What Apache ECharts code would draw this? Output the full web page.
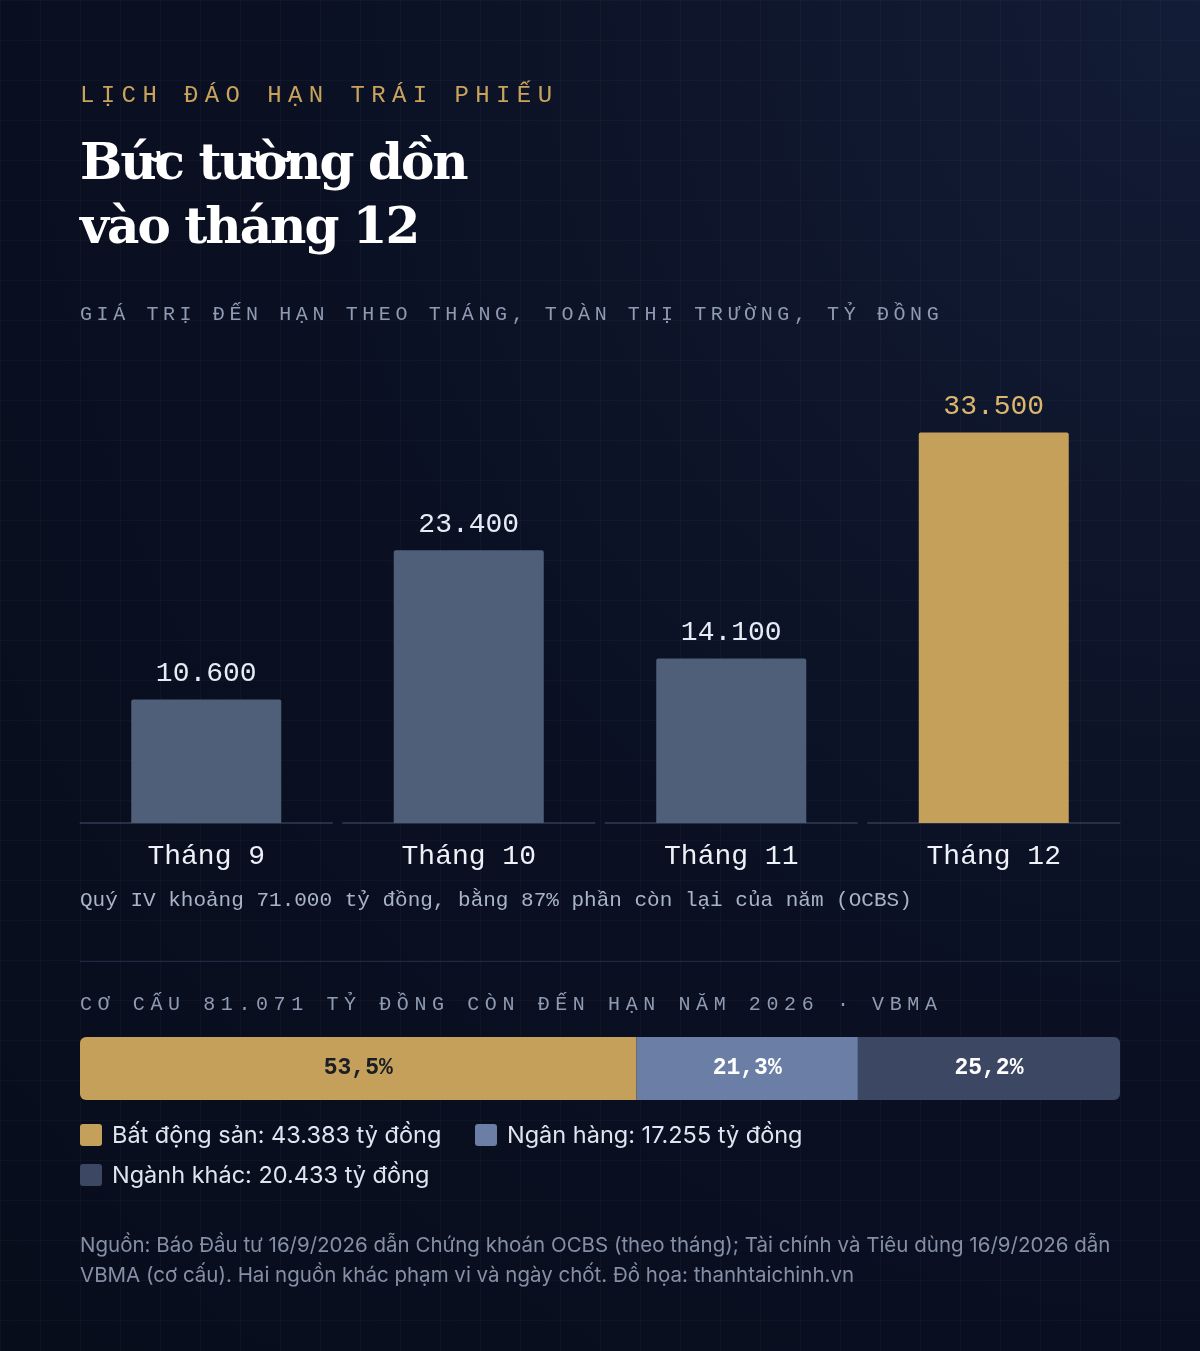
<!DOCTYPE html>
<html><head><meta charset="utf-8">
<script src="https://cdn.jsdelivr.net/npm/echarts@6/dist/echarts.min.js"></script>
<style>
html,body{margin:0;padding:0;}
body{width:1200px;height:1351px;position:relative;overflow:hidden;
background:
linear-gradient(rgba(255,255,255,0.025) 1px,transparent 1px) 0 0/40px 40px,
linear-gradient(90deg,rgba(255,255,255,0.025) 1px,transparent 1px) 0 0/40px 40px,
radial-gradient(ellipse at 100% 0%,#131c36 0%,#0a1022 55%,#080d1c 100%);
font-family:Inter,"Noto Sans",sans-serif;}
#c{position:absolute;left:0;top:0;width:1200px;height:1351px;}
.t{position:absolute;left:80px;white-space:nowrap;}
.mono{font-family:"Liberation Mono","DejaVu Sans Mono",monospace;}
.kick{top:82px;font-size:24px;letter-spacing:6.4px;color:#c9a35c;}
h1{position:absolute;left:80px;top:130px;margin:0;font-family:"DejaVu Serif","Liberation Serif",serif;font-weight:bold;font-size:50px;line-height:64px;color:#fff;letter-spacing:-2px;}
.sub{top:303px;font-size:20px;letter-spacing:4.6px;color:#8f9bb3;}
.note{top:889px;font-size:21px;color:#a9b4c8;}
.hr{position:absolute;left:80px;width:1040px;top:961px;height:1px;background:#1f2840;}
.sub2{top:993px;font-size:20px;letter-spacing:5.6px;color:#8f9bb3;}
.lg{position:absolute;font-size:23.5px;color:#dfe5ef;display:flex;align-items:center;white-space:nowrap;}
.lg i{display:inline-block;width:22px;height:22px;border-radius:3px;margin-right:10px;}
.src{top:1230px;font-size:20.5px;line-height:30px;color:#8590a6;white-space:normal;width:1060px;}
</style></head><body>
<div id="c"></div>
<div class="t mono kick">LỊCH ĐÁO HẠN TRÁI PHIẾU</div>
<h1>Bức tường dồn<br>vào tháng 12</h1>
<div class="t mono sub">GIÁ TRỊ ĐẾN HẠN THEO THÁNG, TOÀN THỊ TRƯỜNG, TỶ ĐỒNG</div>
<div class="t mono note">Quý IV khoảng 71.000 tỷ đồng, bằng 87% phần còn lại của năm (OCBS)</div>
<div class="hr"></div>
<div class="t mono sub2">CƠ CẤU 81.071 TỶ ĐỒNG CÒN ĐẾN HẠN NĂM 2026 · VBMA</div>
<div class="lg" style="left:80px;top:1120px"><i style="background:#c4a05a"></i>Bất động sản: 43.383 tỷ đồng</div>
<div class="lg" style="left:475px;top:1120px"><i style="background:#6b7fa6"></i>Ngân hàng: 17.255 tỷ đồng</div>
<div class="lg" style="left:80px;top:1160px"><i style="background:#3b4763"></i>Ngành khác: 20.433 tỷ đồng</div>
<div class="t src">Nguồn: Báo Đầu tư 16/9/2026 dẫn Chứng khoán OCBS (theo tháng); Tài chính và Tiêu dùng 16/9/2026 dẫn VBMA (cơ cấu). Hai nguồn khác phạm vi và ngày chốt. Đồ họa: thanhtaichinh.vn</div>
<script>
const months = ['Tháng 9','Tháng 10','Tháng 11','Tháng 12'];
const maturity = [10600, 23400, 14100, 33500];
const sectors = ['Bất động sản','Ngân hàng','Ngành khác'];
const sectorValues = [43383, 17255, 20433];
const sectorPct = ['53,5%','21,3%','25,2%'];
const sectorColors = ['#c4a05a','#6b7fa6','#3b4763'];
const sectorLabelColors = ['#1b1d24','#ffffff','#ffffff'];
const total = sectorValues.reduce((a,b)=>a+b,0);
const fmt = v => v.toLocaleString('de-DE');
const mono = '"Liberation Mono","DejaVu Sans Mono",monospace';
const chart = echarts.init(document.getElementById('c'));
const stackSeries = sectorValues.map((v,i)=>({
  type:'bar', stack:'s', xAxisIndex:1, yAxisIndex:1, barWidth:63,
  data:[v], itemStyle:{color:sectorColors[i],
    borderRadius: i===0?[6,0,0,6]:(i===sectorValues.length-1?[0,6,6,0]:0)},
  label:{show:true,position:'inside',formatter:()=>sectorPct[i],fontFamily:mono,fontSize:23,fontWeight:'bold',color:sectorLabelColors[i]},
  silent:true
}));
chart.setOption({
  animation:false,
  grid:[{left:75,right:75,top:380,bottom:528},{left:80,right:80,top:1037,height:63}],
  xAxis:[{type:'category',data:months,gridIndex:0,axisLine:{show:false},axisTick:{show:false},
    axisLabel:{fontFamily:mono,fontSize:28,color:'#eef2f8',margin:20}},
    {type:'value',gridIndex:1,min:0,max:total,show:false}],
  yAxis:[{type:'value',gridIndex:0,min:0,max:38000,show:false},
    {type:'category',gridIndex:1,data:['2026'],show:false}],
  series:[
    {type:'bar',data:maturity.map((v,i)=>({value:v,itemStyle:{color:i===3?'#c4a05a':'#4f5f7a'},
      label:{color:i===3?'#dcb66c':'#e6ecf5'}})),barWidth:150,itemStyle:{borderRadius:[2,2,0,0]},
      label:{show:true,position:'top',distance:12,fontFamily:mono,fontSize:28,formatter:p=>fmt(p.value)}},
    {type:'scatter',data:months.map(()=>0),symbol:'rect',symbolSize:[253,2],itemStyle:{color:'#2e3850'},z:1,silent:true},
    ...stackSeries
  ]
});
</script>
</body></html>
